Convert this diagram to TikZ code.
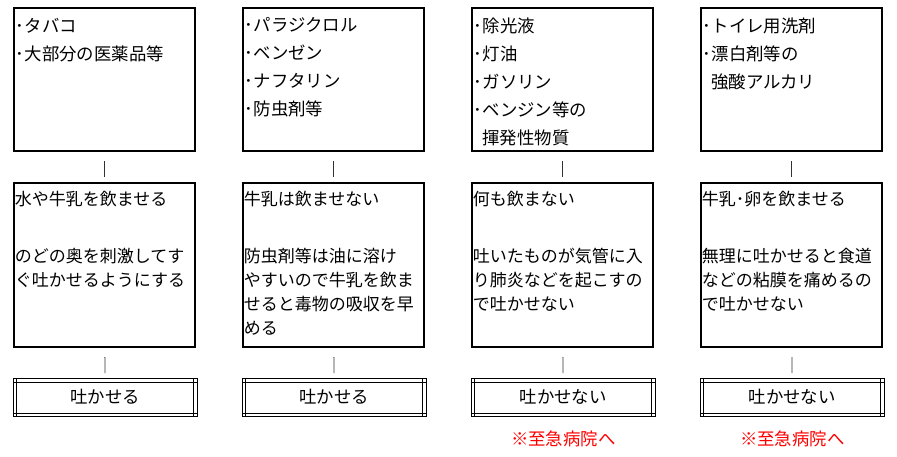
\documentclass[tikz,border=0pt]{standalone}
\usepackage{fontspec}
\setmainfont{Noto Sans CJK JP}
\usetikzlibrary{positioning}
\usetikzlibrary{calc}

\begin{document}
\begin{tikzpicture}[
  x=1pt,y=-1pt,
  font=\fontsize{17.4}{28}\selectfont,
  every matrix/.style={ampersand replacement=\&,column sep=44pt,row sep=30pt,inner sep=0pt},
  poison/.style={draw,line width=2pt,minimum width=181pt,minimum height=143pt,inner sep=0pt},
  aid/.style={poison,minimum height=164pt},
  verdict/.style={draw,line width=1pt,minimum width=184pt,minimum height=38pt,inner sep=0pt,
    path picture={
      \draw[line width=1pt]
        ($(path picture bounding box.north west)+(3.5,0)$) -- ($(path picture bounding box.south west)+(3.5,0)$)
        ($(path picture bounding box.north east)+(-3.5,0)$) -- ($(path picture bounding box.south east)+(-3.5,0)$)
        ($(path picture bounding box.north west)+(0,3.5)$) -- ($(path picture bounding box.north east)+(0,3.5)$)
        ($(path picture bounding box.south west)+(0,-3.5)$) -- ($(path picture bounding box.south east)+(0,-3.5)$);
    }},
  list/.style={anchor=north west,align=left,inner sep=0pt},
  advice/.style={list,font=\fontsize{17}{24}\selectfont},
  note/.style={text=red,inner sep=0pt},
  link/.style={draw=black!80,line width=0.8pt,shorten <=9pt,shorten >=5pt}]

  \useasboundingbox (0,0) rectangle (897,457);

  \matrix[anchor=north west] at (12.5,7) {
    \node[poison] (tabaco) {}; \&
    \node[poison] (insect) {}; \&
    \node[poison] (solvent) {}; \&
    \node[poison] (alkali) {}; \\
    \node[aid] (tabaco-aid) {}; \&
    \node[aid] (insect-aid) {}; \&
    \node[aid] (solvent-aid) {}; \&
    \node[aid] (alkali-aid) {}; \\
    \node[verdict] (tabaco-end) {\raisebox{3pt}{吐かせる}}; \&
    \node[verdict] (insect-end) {\raisebox{3pt}{吐かせる}}; \&
    \node[verdict] (solvent-end) {\raisebox{3pt}{吐かせない}}; \&
    \node[verdict] (alkali-end) {\raisebox{3pt}{吐かせない}}; \\
  };

  \node[list] (tabaco-list) at ($(tabaco.north west)+(3,10.5)$)
      {･タバコ\\･大部分の医薬品等};
  \node[list] (insect-list) at ($(insect.north west)+(3,10.5)$)
      {･パラジクロル\\･ベンゼン\\･ナフタリン\\･防虫剤等};
  \node[list] (solvent-list) at ($(solvent.north west)+(3,10.5)$)
      {･除光液\\･灯油\\･ガソリン\\･ベンジン等の\\\hspace{8.5pt}揮発性物質};
  \node[list] (alkali-list) at ($(alkali.north west)+(3,10.5)$)
      {･トイレ用洗剤\\･漂白剤等の\\\hspace{8.5pt}強酸アルカリ};

  \node[advice] (tabaco-text) at ($(tabaco-aid.north west)+(2,8.5)$)
      {水や牛乳を飲ませる\\[33pt]のどの奥を刺激してす\\ぐ吐かせるようにする};
  \node[advice] (insect-text) at ($(insect-aid.north west)+(2,8.5)$)
      {牛乳は飲ませない\\[33pt]防虫剤等は油に溶け\\やすいので牛乳を飲ま\\せると毒物の吸収を早\\める};
  \node[advice] (solvent-text) at ($(solvent-aid.north west)+(2,8.5)$)
      {何も飲まない\\[33pt]吐いたものが気管に入\\り肺炎などを起こすの\\で吐かせない};
  \node[advice] (alkali-text) at ($(alkali-aid.north west)+(2,8.5)$)
      {牛乳･卵を飲ませる\\[33pt]無理に吐かせると食道\\などの粘膜を痛めるの\\で吐かせない};

  \node[note,below=13pt of solvent-end] (solvent-note) {※至急病院へ};
  \node[note,below=13pt of alkali-end] (alkali-note) {※至急病院へ};

  \draw[link] (tabaco) -- (tabaco-aid);
  \draw[link] (insect) -- (insect-aid);
  \draw[link] (solvent) -- (solvent-aid);
  \draw[link] (alkali) -- (alkali-aid);
  \draw[link] (tabaco-aid) -- (tabaco-end);
  \draw[link] (insect-aid) -- (insect-end);
  \draw[link] (solvent-aid) -- (solvent-end);
  \draw[link] (alkali-aid) -- (alkali-end);
\end{tikzpicture}
\end{document}
